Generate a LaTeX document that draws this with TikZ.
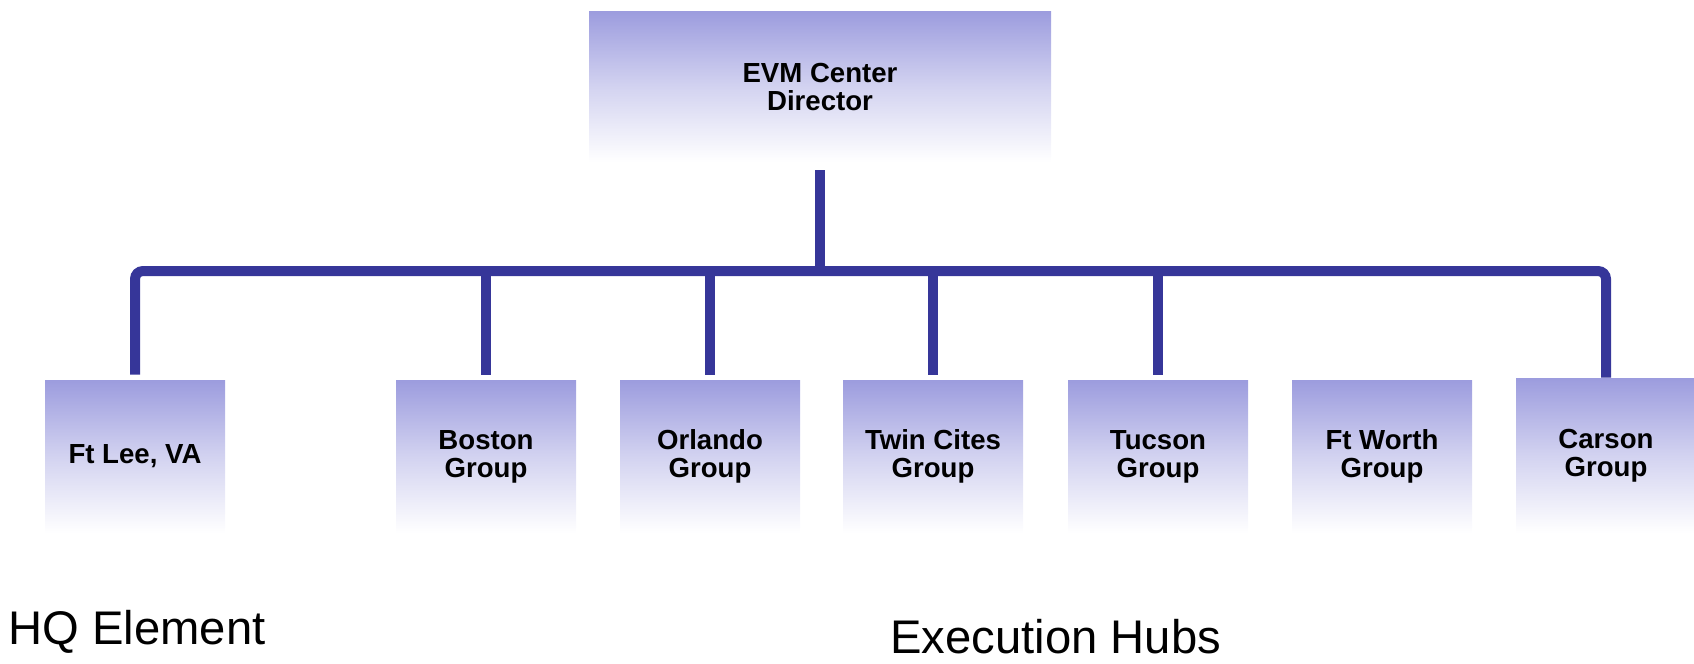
\documentclass[tikz,border=0pt]{standalone}
\usepackage{fontspec}
\setmainfont{Liberation Sans}
\definecolor{boxtop}{RGB}{156,156,222}
\definecolor{linkblue}{RGB}{54,54,153}
\begin{document}
\begin{tikzpicture}[x=0.5pt, y=-0.5pt,
	unit/.style={shape=rectangle, top color=boxtop, bottom color=white, middle color=boxtop!45!white,
		minimum width=90pt, minimum height=76.5pt, inner sep=0pt, align=center,
		font=\fontsize{13.8}{14}\selectfont\bfseries},
	link/.style={draw=linkblue, line width=5pt, rounded corners=4pt},
	caption/.style={anchor=west, inner sep=1pt, font=\fontsize{23.6}{28}\selectfont}]
	\useasboundingbox (0,0) rectangle (1694,664);

	\node[unit, minimum width=231pt, minimum height=75.5pt] (dir)     at (820,86.5)   {EVM Center\\Director};
	\node[unit]                                             (ftlee)   at (135,456.5)  {Ft Lee, VA};
	\node[unit]                                             (boston)  at (486,456.5)  {Boston\\Group};
	\node[unit]                                             (orlando) at (710,456.5)  {Orlando\\Group};
	\node[unit]                                             (twin)    at (933,456.5)  {Twin Cites\\Group};
	\node[unit]                                             (tucson)  at (1158,456.5) {Tucson\\Group};
	\node[unit]                                             (ftworth) at (1382,456.5) {Ft Worth\\Group};
	\node[unit, minimum height=77.5pt]                      (carson)  at (1606,455.5) {Carson\\Group};

	\coordinate (bar) at (820,271);

	\node[caption] (hq)   at (6,632)   {HQ Element};
	\node[caption] (hubs) at (888,637) {Execution Hubs};

	\path [link, shorten <=4pt]                (dir.south)     edge (bar);
	\draw [link, shorten <=2.5pt, shorten >=0pt] (ftlee.north) |- (bar) -| (carson.north);
	\path [link, shorten <=2.5pt] (boston.north)  edge (boston.north |- bar);
	\path [link, shorten <=2.5pt] (orlando.north) edge (orlando.north |- bar);
	\path [link, shorten <=2.5pt] (twin.north)    edge (twin.north |- bar);
	\path [link, shorten <=2.5pt] (tucson.north)  edge (tucson.north |- bar);
\end{tikzpicture}
\end{document}
